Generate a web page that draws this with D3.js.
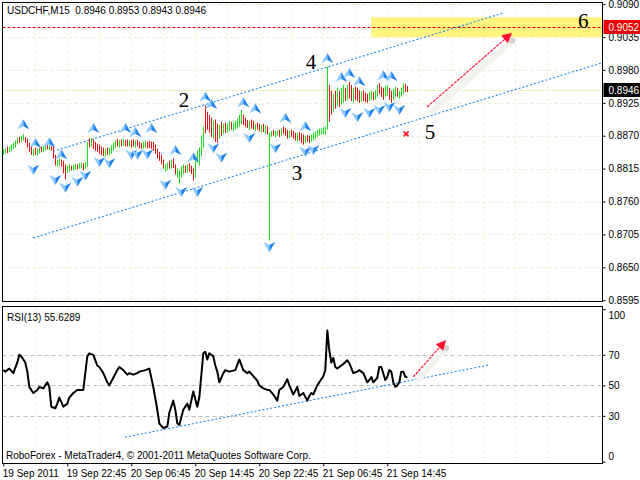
<!DOCTYPE html>
<html><head><meta charset="utf-8">
<script src="https://cdn.jsdelivr.net/npm/d3@7"></script>
<style>body{margin:0;background:#fff} svg{display:block} text{font-family:"Liberation Sans",Arial,sans-serif;font-size:10px}</style>
</head><body><svg id="c" width="640" height="480"></svg>
<script>
// ---------------- DATA ----------------
const symbolTitle = "USDCHF,M15  0.8946 0.8953 0.8943 0.8946";
const rsiTitle = "RSI(13) 55.6289";
const copyright = "RoboForex - MetaTrader4, \u00A9 2001-2011 MetaQuotes Software Corp.";
const timeLabels = ["19 Sep 2011","19 Sep 22:45","20 Sep 06:45","20 Sep 14:45","20 Sep 22:45","21 Sep 06:45","21 Sep 14:45"];
const timeLabelBars = [0,32,64,96,128,160,192];
const priceTicks = [0.9090,0.9035,0.8980,0.8925,0.8870,0.8815,0.8760,0.8705,0.8650,0.8595];
const rsiTicks = [100,70,50,30,0];
const rsiLevels = [70,50,30];
const bidPrice = 0.8946;
const targetPrice = 0.9052;
const targetZone = [0.9035, 0.9068];

const highs = [.8847,.8849,.8852,.8852,.8855,.8858,.8862,.8866,.8868,.8870,
.8873,.8868,.8865,.8858,.8852,.8848,.8850,.8848,.8850,.8852,
.8853,.8854,.8855,.8854,.8853,.8852,.8838,.8830,.8832,.8830,
.8828,.8822,.8820,.8822,.8820,.8821,.8823,.8822,.8824,.8825,
.8824,.8826,.8859,.8866,.8866,.8864,.8860,.8857,.8855,.8852,
.8850,.8848,.8850,.8850,.8854,.8858,.8862,.8865,.8863,.8864,
.8865,.8863,.8864,.8862,.8863,.8864,.8862,.8863,.8860,.8858,
.8860,.8862,.8860,.8861,.8860,.8860,.8855,.8848,.8843,.8838,
.8830,.8822,.8825,.8828,.8830,.8832,.8822,.8815,.8812,.8818,
.8822,.8820,.8822,.8824,.8820,.8815,.8835,.8845,.8850,.8870,
.8885,.8921,.8910,.8905,.8900,.8895,.8897,.8890,.8888,.8893,
.8890,.8892,.8890,.8895,.8893,.8892,.8895,.8898,.8905,.8913,
.8905,.8900,.8896,.8895,.8897,.8895,.8890,.8892,.8890,.8888,
.8890,.8888,.8886,.8875,.8878,.8880,.8878,.8879,.8880,.8882,
.8885,.8883,.8880,.8878,.8880,.8878,.8875,.8875,.8876,.8874,
.8872,.8870,.8871,.8870,.8872,.8875,.8877,.8880,.8882,.8882,
.8884,.8885,.8985,.8955,.8945,.8940,.8945,.8950,.8945,.8950,
.8955,.8950,.8955,.8960,.8955,.8950,.8952,.8950,.8946,.8944,
.8946,.8942,.8940,.8943,.8945,.8943,.8946,.8955,.8958,.8952,
.8950,.8953,.8955,.8950,.8945,.8948,.8952,.8950,.8945,.8950,
.8958,.8957,.8953];
const lows = [.8838,.8840,.8841,.8842,.8845,.8848,.8850,.8855,.8858,.8860,
.8862,.8858,.8850,.8843,.8838,.8836,.8838,.8837,.8840,.8842,
.8843,.8845,.8847,.8846,.8845,.8832,.8820,.8818,.8820,.8818,
.8807,.8797,.8808,.8810,.8812,.8812,.8813,.8814,.8815,.8815,
.8812,.8815,.8818,.8850,.8852,.8848,.8845,.8843,.8840,.8838,
.8836,.8835,.8838,.8837,.8840,.8845,.8850,.8852,.8850,.8852,
.8853,.8852,.8852,.8851,.8850,.8852,.8850,.8852,.8849,.8848,
.8848,.8850,.8849,.8849,.8848,.8845,.8840,.8832,.8828,.8822,
.8815,.8810,.8812,.8815,.8815,.8816,.8805,.8800,.8790,.8800,
.8805,.8808,.8808,.8810,.8806,.8795,.8800,.8825,.8820,.8835,
.8850,.8874,.8880,.8875,.8868,.8865,.8860,.8858,.8865,.8870,
.8873,.8875,.8875,.8878,.8880,.8877,.8880,.8882,.8885,.8890,
.8888,.8885,.8883,.8880,.8882,.8880,.8878,.8880,.8877,.8875,
.8876,.8873,.8872,.8695,.8868,.8870,.8867,.8870,.8868,.8870,
.8873,.8870,.8865,.8866,.8868,.8865,.8862,.8860,.8862,.8858,
.8855,.8858,.8860,.8858,.8860,.8862,.8865,.8868,.8870,.8872,
.8873,.8872,.8880,.8893,.8905,.8910,.8915,.8920,.8918,.8922,
.8925,.8928,.8930,.8932,.8928,.8926,.8930,.8928,.8925,.8927,
.8928,.8926,.8925,.8928,.8930,.8929,.8930,.8935,.8940,.8935,
.8930,.8935,.8936,.8930,.8925,.8930,.8935,.8935,.8932,.8935,
.8940,.8943,.8943];
const barDir = "GGRGGGGGRGGRRRRGRGGRGGRGRRRGGRRRGGRGGRGGRGGRGRRRRRRGRGGGGRGRGRRGRRGRRRGGRRRRRRRRRGGRGRRGGGGRGRRRGGGGGRRRRGRRGRGRGGRGGGGGRRRGRRGRRGRGRGGRGGRGRRRGRRRGRRRGRRGGGGGGGGGRRGRGRGGRGRRGRRRGRRRGGRGGRRRGGRRGGRGGGRR";

const fracUpBar = [10,16,23,29,45,61,66,74,86,95,101,104,120,126,141,151,162,169,173,178,190,194];
const fracUpPrice = [.8889,.8858,.8859,.8839,.8883,.8883,.8876,.8883,.8846,.8834,.8935,.8923,.8926,.8916,.8900,.8886,.9000,.8968,.8975,.8961,.8971,.8970];
const fracDnBar = [15,26,31,37,41,48,53,64,67,72,81,89,97,105,109,123,133,136,151,155,171,177,183,188,193,198];
const fracDnPrice = [.8813,.8796,.8783,.8793,.8803,.8826,.8824,.8838,.8838,.8839,.8788,.8776,.8776,.8849,.8833,.8866,.8684,.8849,.8843,.8846,.8908,.8901,.8908,.8913,.8918,.8913];

const rsiBar = [0,1,3,5,7,8,9,11,12,13,15,17,18,20,22,23,24,26,27,28,30,32,33,35,37,40,42,43,45,47,48,50,52,53,55,57,58,60,62,63,65,67,68,71,73,75,77,78,80,82,83,85,86,87,88,90,92,93,95,97,98,100,101,102,103,105,106,107,108,110,111,113,116,118,120,122,123,125,127,128,130,132,133,135,137,138,140,142,143,145,147,148,150,152,153,154,155,156,157,158,159,160,161,162,163,164,165,166,167,168,169,170,172,173,175,177,178,180,182,183,184,185,187,188,189,191,192,193,194,195,196,197,198,199,200,201,202];
const rsiVal = [60,59,61,58,65,70,69,65,59,49,45,47,49,48,52,49,36,35,38,42,36,38,42,45,47,47,69,71,70,63,62,58,52,50,55,60,62,60,57,58,57,58,59,60,61,49,34,25,22,23,32,40,34,25,24,34,38,34,46,36,42,71,72,67,71,69,63,59,52,58,60,59,60,67,60,58,59,56,53,50,48,47,47,44,40,47,49,54,50,44,49,43,45,40,43,45,44,47,50,52,54,56,60,86,73,65,68,62,61,62,63,64,66.5,64.5,58,59,60,58,52,53.5,55.5,52,55,62,62,53.5,55.5,60,59,52,49,50,52,59,59,55.5,55.6];

// channel & annotation lines: [bar, value]
const upperChannel = [[24.9,.8844],[249.9,.9075]];
const lowerChannel = [[14.9,.8699],[299.6,.8992]];
const rsiChannel = [[60.9,16],[242.4,63.3]];
const priceArrow = [[211.9,.8918],[254.4,.9042]];
const rsiArrow = [[204.9,55.5],[221.4,79.7]];
const crossMark = [201.4,.8873];
const waveLabels = ["2","4","3","5","6"];
const waveBars = [90.4,153.9,146.9,213.4,290.0];
const wavePrices = [.8930,.8993,.8808,.8876,.9061];

// ---------------- LAYOUT ----------------
const svg = d3.select("#c");
const L = 2.5, R = 602.5, T = 2.5, MB = 301.5, RT = 306.5, RB = 463.5;
const x = d3.scaleLinear().domain([0, 300]).range([3.3, 603.3]);
const yP = d3.scaleLinear().domain([0.8595, 0.9090]).range([300.2, 4.1]);
const yR = d3.scaleLinear().domain([0, 100]).range([461.6, 309.1]);

svg.append("rect").attr("width",640).attr("height",480).attr("fill","#fff");

const gridCol = "#eeeed2";
// vertical grid
const vg = d3.range(1, 18).map(k => 35.3 + 32*(k-1)).filter(v => v < R);
[[T,MB],[RT,RB]].forEach(([a,b]) => {
  svg.append("g").selectAll("line").data(vg).join("line")
    .attr("x1", d => Math.round(d)+0.5).attr("x2", d => Math.round(d)+0.5)
    .attr("y1", a).attr("y2", b)
    .attr("stroke", gridCol).attr("stroke-dasharray","3,3");
});
// horizontal grid (price)
svg.append("g").selectAll("line").data(priceTicks).join("line")
  .attr("x1", L).attr("x2", R)
  .attr("y1", d => Math.round(yP(d))+0.5).attr("y2", d => Math.round(yP(d))+0.5)
  .attr("stroke", gridCol).attr("stroke-dasharray","3,3");
// RSI levels
svg.append("g").selectAll("line").data(rsiLevels).join("line")
  .attr("x1", L).attr("x2", R)
  .attr("y1", d => Math.round(yR(d))+0.5).attr("y2", d => Math.round(yR(d))+0.5)
  .attr("stroke", "#c0c0c0").attr("stroke-dasharray","4,3");

// target zone
svg.append("rect")
  .attr("x", x(183.9)).attr("y", yP(targetZone[1]))
  .attr("width", R - x(183.9)).attr("height", yP(targetZone[0]) - yP(targetZone[1]))
  .attr("fill", "#fff47e");
// bid line
svg.append("line").attr("x1",L).attr("x2",R)
  .attr("y1", Math.round(yP(bidPrice))+0.5).attr("y2", Math.round(yP(bidPrice))+0.5)
  .attr("stroke","#efefc4");
// target level
svg.append("line").attr("x1",L).attr("x2",R)
  .attr("y1", Math.round(yP(targetPrice))+0.5).attr("y2", Math.round(yP(targetPrice))+0.5)
  .attr("stroke","#d80000").attr("stroke-dasharray","3,2");

// channels
const lineP = d3.line().x(d => x(d[0])).y(d => yP(d[1]));
const lineR = d3.line().x(d => x(d[0])).y(d => yR(d[1]));
[upperChannel, lowerChannel].forEach(c => svg.append("path").attr("d", lineP(c))
  .attr("stroke","#1e88f0").attr("stroke-width",1.1).attr("stroke-dasharray","2,2").attr("fill","none"));
svg.append("path").attr("d", lineR(rsiChannel))
  .attr("stroke","#1e88f0").attr("stroke-width",1.1).attr("stroke-dasharray","2,2").attr("fill","none");

// bars
const clip = svg.append("clipPath").attr("id","mc").append("rect").attr("x",L).attr("y",T).attr("width",R-L).attr("height",MB-T);
svg.append("g").attr("clip-path","url(#mc)").selectAll("rect").data(highs).join("rect")
  .attr("x", (d,i) => Math.floor(x(i)))
  .attr("width", 1)
  .attr("y", (d,i) => yP(d))
  .attr("height", (d,i) => Math.max(1, yP(lows[i]) - yP(d)))
  .attr("fill", (d,i) => barDir[i] === "G" ? "#19df19" : "#e41212");

// fractal icons
function iconUp(g){
  g.append("path").attr("d","M0,-5 L0,2 L-6,5 Z").attr("fill","#8cc8ff");
  g.append("path").attr("d","M0,-5 L6,5 L0,2 Z").attr("fill","#1f82ee");
}
function iconDn(g){
  g.append("path").attr("d","M0,5 L0,-2 L-6,-5 Z").attr("fill","#8cc8ff");
  g.append("path").attr("d","M0,5 L6,-5 L0,-2 Z").attr("fill","#1f82ee");
}
fracUpBar.forEach((b,i) => iconUp(svg.append("g").attr("transform",`translate(${x(b)},${yP(fracUpPrice[i])})`)));
fracDnBar.forEach((b,i) => iconDn(svg.append("g").attr("transform",`translate(${x(b)},${yP(fracDnPrice[i])})`)));

// cross mark
svg.append("path").attr("transform",`translate(${x(crossMark[0])},${yP(crossMark[1])})`)
  .attr("d","M-2.5,-2.5 L2.5,2.5 M-2.5,2.5 L2.5,-2.5").attr("stroke","#ff1020").attr("stroke-width",1.6);

// arrows
function drawArrow(p0, p1, shadowW){
  svg.append("line").attr("x1",p0[0]+5).attr("y1",p0[1]+4).attr("x2",p1[0]).attr("y2",p1[1]+8)
    .attr("stroke","#f3f3ee").attr("stroke-width",shadowW).attr("stroke-linecap","round");
  svg.append("circle").attr("cx",p1[0]).attr("cy",p1[1]+8).attr("r",3).attr("fill","#d4d4d4");
  const ang = Math.atan2(p1[1]-p0[1], p1[0]-p0[0]);
  const hl = 10, hw = 5;
  const bx = p1[0] - hl*Math.cos(ang), by = p1[1] - hl*Math.sin(ang);
  svg.append("line").attr("x1",p0[0]).attr("y1",p0[1]).attr("x2",bx).attr("y2",by)
    .attr("stroke","#ff1838").attr("stroke-width",1.2).attr("stroke-dasharray","3,1");
  svg.append("path").attr("d",`M${p1[0]},${p1[1]} L${bx - hw*Math.sin(ang)},${by + hw*Math.cos(ang)} L${bx + hw*Math.sin(ang)},${by - hw*Math.cos(ang)} Z`)
    .attr("fill","#ff1030");
}
drawArrow([x(priceArrow[0][0]), yP(priceArrow[0][1])], [x(priceArrow[1][0]), yP(priceArrow[1][1])], 6);
drawArrow([x(rsiArrow[0][0]), yR(rsiArrow[0][1])], [x(rsiArrow[1][0]), yR(rsiArrow[1][1])], 5);

// wave labels
svg.append("g").selectAll("text").data(waveLabels).join("text")
  .attr("x", (d,i) => x(waveBars[i])).attr("y", (d,i) => yP(wavePrices[i]))
  .attr("text-anchor","middle").attr("dominant-baseline","central")
  .style("font-family","'Liberation Serif','Times New Roman',serif").style("font-size","21px")
  .text(d => d);

// RSI line
svg.append("path").datum(rsiBar.map((b,i)=>[b, rsiVal[i]]))
  .attr("d", lineR).attr("fill","none").attr("stroke","#000").attr("stroke-width",2).attr("stroke-linejoin","round");

// frames
svg.append("rect").attr("x",L).attr("y",T).attr("width",R-L).attr("height",MB-T).attr("fill","none").attr("stroke","#000");
svg.append("rect").attr("x",L).attr("y",RT).attr("width",R-L).attr("height",RB-RT).attr("fill","none").attr("stroke","#000");

// price axis
const pa = svg.append("g").attr("transform",`translate(${R},0)`)
  .call(d3.axisRight(yP).tickValues(priceTicks).tickFormat(d3.format(".4f")).tickSize(3).tickPadding(3));
pa.select(".domain").remove();
pa.selectAll("text").style("font-family","'Liberation Sans',Arial,sans-serif").style("font-size","10px").attr("fill","#000");
pa.selectAll("line").attr("stroke","#000");

// RSI axis
const ra = svg.append("g").attr("transform",`translate(${R},0)`)
  .call(d3.axisRight(yR).tickValues(rsiTicks).tickFormat(d3.format("d")).tickSize(3).tickPadding(3));
ra.select(".domain").remove();
ra.selectAll("text").style("font-size","10px").attr("fill","#000")
  .attr("dy", d => d === 100 ? "0.95em" : d === 0 ? "-0.2em" : "0.32em");
ra.selectAll("line").attr("stroke","#000");

// time axis
const ta = svg.append("g").attr("transform",`translate(0,${RB})`)
  .call(d3.axisBottom(x).tickValues(timeLabelBars).tickFormat((d,i) => timeLabels[i]).tickSize(3).tickPadding(3));
ta.select(".domain").remove();
ta.selectAll("text").attr("text-anchor","start").style("font-size","10px").attr("fill","#000").attr("dx","-1");
ta.selectAll("line").attr("stroke","#000");

// price labels
function priceBox(v, fill){
  const yy = Math.round(yP(v));
  svg.append("rect").attr("x",R+1).attr("y",yy-7).attr("width",37).attr("height",14).attr("fill",fill);
  svg.append("text").attr("x",R+6).attr("y",yy).attr("dy","0.35em").attr("fill","#fff").style("font-size","10px").text(d3.format(".4f")(v));
}
priceBox(targetPrice, "#f00000");
priceBox(bidPrice, "#000");

// texts
svg.append("text").attr("x",7).attr("y",14).attr("xml:space","preserve").style("white-space","pre").text(symbolTitle);
svg.append("text").attr("x",7).attr("y",321).text(rsiTitle);
svg.append("text").attr("x",6).attr("y",459).text(copyright);
</script></body></html>
